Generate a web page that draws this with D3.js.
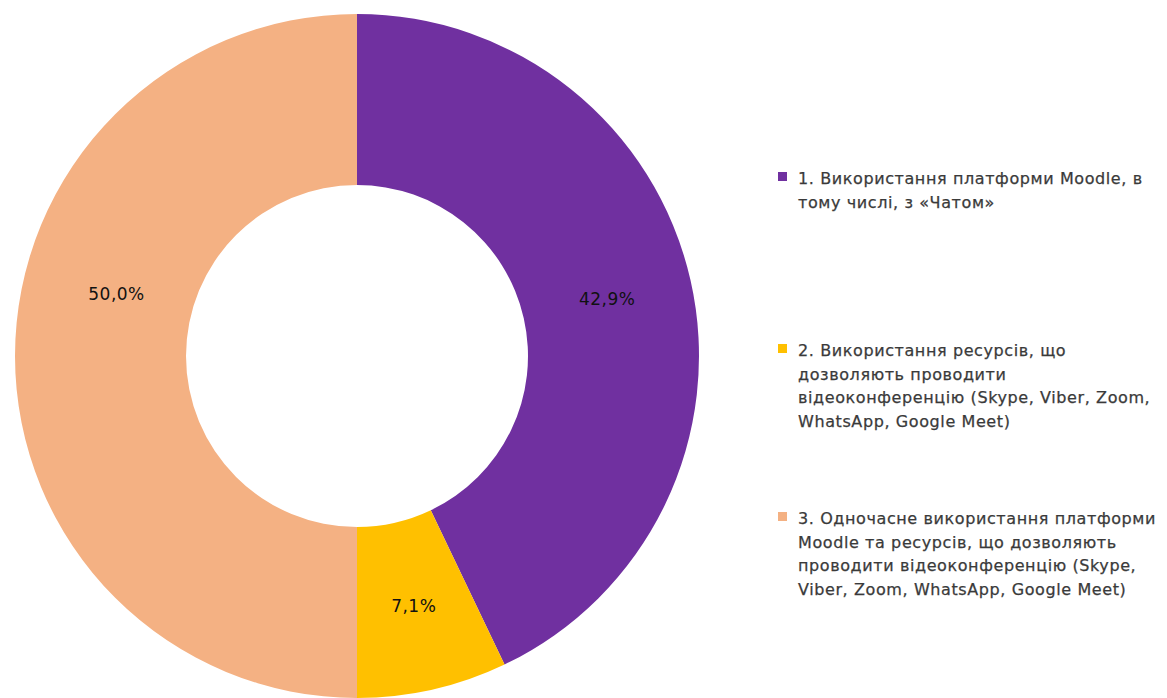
<!DOCTYPE html>
<html>
<head>
<meta charset="utf-8">
<script src="https://cdn.jsdelivr.net/npm/d3@7"></script>
<style>
  html, body { margin: 0; padding: 0; background: #fff; }
  svg { display: block; }
</style>
</head>
<body>
<svg id="chart" width="1167" height="698"></svg>
<script>
// ---- data ----
const categories = [
  "1. Використання платформи Moodle, в тому числі, з «Чатом»",
  "2. Використання ресурсів, що дозволяють проводити відеоконференцію (Skype, Viber, Zoom, WhatsApp, Google Meet)",
  "3. Одночасне використання платформи Moodle та ресурсів, що дозволяють проводити відеоконференцію (Skype, Viber, Zoom, WhatsApp, Google Meet)"
];
const legendLines = [
  ["1. Використання платформи Moodle, в", "тому числі, з «Чатом»"],
  ["2. Використання ресурсів, що", "дозволяють проводити", "відеоконференцію (Skype, Viber, Zoom,", "WhatsApp, Google Meet)"],
  ["3. Одночасне використання платформи", "Moodle та ресурсів, що дозволяють", "проводити відеоконференцію (Skype,", "Viber, Zoom, WhatsApp, Google Meet)"]
];
const values = [42.9, 7.1, 50.0];
const labels = ["42,9%", "7,1%", "50,0%"];
const colors = ["#7030A0", "#FFC000", "#F4B183"];

// ---- layout ----
const svg = d3.select("#chart");
const cx = 357, cy = 356, outerR = 342, innerR = 171;
const labelShift = [[0, 0], [0, 0], [16, -62]];

const pie = d3.pie().value(d => d).sort(null);
const arc = d3.arc().innerRadius(innerR).outerRadius(outerR);
const arcs = pie(values);

const g = svg.append("g").attr("transform", `translate(${cx},${cy})`);
g.selectAll("path.slice").data(arcs).enter().append("path")
  .attr("class", "slice")
  .attr("d", arc)
  .attr("fill", (d, i) => colors[i]);

g.selectAll("text.lbl").data(arcs).enter().append("text")
  .attr("class", "lbl")
  .attr("x", (d, i) => arc.centroid(d)[0] + labelShift[i][0])
  .attr("y", (d, i) => arc.centroid(d)[1] + labelShift[i][1])
  .attr("dy", "0.36em")
  .attr("text-anchor", "middle")
  .attr("font-family", "DejaVu Sans, sans-serif")
  .attr("font-size", 17)
  .attr("letter-spacing", 0.5)
  .attr("fill", "#111")
  .text((d, i) => labels[i]);

// ---- legend ----
const legendTop = [184, 356, 524];
const lineH = 23.7;
const leg = svg.append("g");
legendLines.forEach((lines, i) => {
  const item = leg.append("g");
  item.append("rect")
    .attr("x", 778).attr("y", legendTop[i] - 12)
    .attr("width", 9).attr("height", 9)
    .attr("fill", colors[i]);
  const t = item.append("text")
    .attr("font-family", "DejaVu Sans, sans-serif")
    .attr("font-size", 16)
    .attr("letter-spacing", 0.6)
    .attr("fill", "#3a3a3a")
    .attr("stroke", "#3a3a3a")
    .attr("stroke-width", 0.25);
  lines.forEach((ln, j) => {
    t.append("tspan").attr("x", 798).attr("y", legendTop[i] + j * lineH).text(ln);
  });
});
</script>
</body>
</html>
